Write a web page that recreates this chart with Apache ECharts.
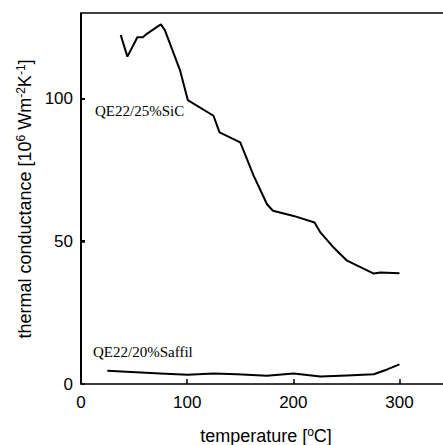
<!DOCTYPE html>
<html><head><meta charset="utf-8">
<script src="https://cdn.jsdelivr.net/npm/echarts@6/dist/echarts.min.js"></script>
<style>html,body{margin:0;padding:0;background:#fff}#c{width:443px;height:445px}</style>
</head><body><div id="c"></div>
<script>
const sicT = [37.4, 43.7, 53.1, 58.2, 61.3, 75.2, 79, 93.4, 100.6, 124.8, 130.5, 150, 162.6, 175.2, 180.8, 200.3, 220, 225.5, 238, 250.6, 275.8, 282, 300];
const sicK = [122.3, 114.7, 121.5, 121.5, 122.5, 126, 124, 109.8, 99.5, 94, 88.2, 84.7, 73, 63, 60.7, 58.9, 56.6, 53.1, 47.8, 43.2, 38.7, 39.1, 38.8];
const saffilT = [24.8, 74.5, 100.6, 124.8, 146.9, 175, 200.3, 225.5, 250.6, 275.8, 288.4, 300];
const saffilK = [4.6, 3.7, 3.2, 3.7, 3.4, 2.9, 3.7, 2.6, 3.0, 3.4, 5.1, 6.9];
const xTicks = [0, 100, 200, 300];
const yTicks = [0, 50, 100];
const seriesNames = ['QE22/25%SiC', 'QE22/20%Saffil'];

const chart = echarts.init(document.getElementById('c'), null, {renderer: 'svg'});
const zip = (a, b) => a.map((v, i) => [v, b[i]]);
const SANS = '"Liberation Sans", Arial, "DejaVu Sans", sans-serif';
const SERIF = '"Liberation Serif", "Times New Roman", serif';
const lbl = {color: '#000', fontFamily: SANS, fontSize: 17};
const rich = {
  t: {fontFamily: SANS, fontSize: 18, color: '#000'},
  s: {fontFamily: SANS, fontSize: 12, color: '#000', padding: [0, 0, 9, 0]}
};
const X_MAX = 341, Y_MAX = 130;
const G = {left: 81, right: 0, top: 13, bottom: 61};
const H = 445, plotBottom = H - G.bottom, plotH = plotBottom - G.top;
const yPix = v => plotBottom - v / Y_MAX * plotH;
chart.setOption({
  animation: false,
  grid: G,
  xAxis: [{
    type: 'value', min: 0, max: X_MAX, interval: 100,
    axisLine: {show: true, onZero: false, lineStyle: {color: '#000', width: 1.5}},
    axisTick: {show: true, inside: true, length: 5, customValues: xTicks, lineStyle: {color: '#000', width: 1.5}},
    splitLine: {show: false},
    axisLabel: Object.assign({margin: 10, customValues: xTicks}, lbl)
  }, {
    type: 'value', position: 'top', min: 0, max: X_MAX,
    axisLine: {show: true, onZero: false, lineStyle: {color: '#000', width: 1.5}},
    axisTick: {show: false}, axisLabel: {show: false}, splitLine: {show: false}
  }],
  yAxis: {
    type: 'value', position: 'left', min: 0, max: Y_MAX, interval: 50, z: 50,
    axisLine: {show: true, onZero: false, lineStyle: {color: '#000', width: 1.5}},
    axisTick: {show: true, inside: true, length: 4, customValues: yTicks, lineStyle: {color: '#000', width: 1.5}},
    splitLine: {show: false},
    axisLabel: Object.assign({margin: 8, customValues: yTicks}, lbl)
  },
  graphic: [
    {type: 'rect', z: 200, shape: {x: G.left - 1, y: G.top, width: 2, height: plotH}, style: {fill: '#000'}},
    {type: 'rect', z: 200, shape: {x: G.left, y: Math.round(yPix(yTicks[1])) - 1, width: 4, height: 2}, style: {fill: '#000'}},
    {type: 'rect', z: 200, shape: {x: G.left, y: Math.round(yPix(yTicks[2])) - 1, width: 4, height: 2}, style: {fill: '#000'}},
    {type: 'text', left: 95, top: 103, style: {text: seriesNames[0], font: '15px ' + SERIF, fill: '#000'}},
    {type: 'text', left: 93, top: 344, style: {text: seriesNames[1], font: '15px ' + SERIF, fill: '#000'}},
    {type: 'text', x: 266, y: 436, style: {text: '{t|temperature [}{s|o}{t|C]}', rich: rich, align: 'center', verticalAlign: 'middle'}},
    {type: 'text', x: 25, y: 199, rotation: Math.PI / 2, style: {text: '{t|thermal conductance [10}{s|6}{t| Wm}{s|-2}{t|K}{s|-1}{t|]}', rich: rich, align: 'center', verticalAlign: 'middle'}}
  ],
  series: [
    {name: seriesNames[0], type: 'line', data: zip(sicT, sicK), showSymbol: false, lineStyle: {color: '#000', width: 2}},
    {name: seriesNames[1], type: 'line', data: zip(saffilT, saffilK), showSymbol: false, lineStyle: {color: '#000', width: 2}}
  ]
});
</script></body></html>
